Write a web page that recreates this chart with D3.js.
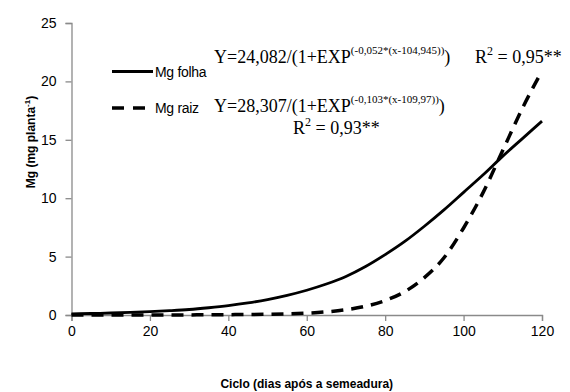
<!DOCTYPE html>
<html>
<head>
<meta charset="utf-8">
<script src="https://cdn.jsdelivr.net/npm/d3@7"></script>
<style>
  body { margin: 0; background: #fff; }
  svg { display: block; }
</style>
</head>
<body>
<div id="chart"></div>
<script>
// dias após a semeadura
const dias = [0, 5, 10, 15, 20, 25, 30, 35, 40, 45, 50, 55, 60, 65, 70, 75, 80, 85, 90, 95, 100, 105, 110, 115, 120];
// Mg folha (mg planta-1)
const mgFolha = [0.10, 0.13, 0.17, 0.22, 0.29, 0.37, 0.47, 0.62, 0.80, 1.03, 1.32, 1.68, 2.12, 2.65, 3.30, 4.15, 5.17, 6.30, 7.60, 9.00, 10.5, 12.0, 13.6, 15.1, 16.6];
// Mg raiz
const mgRaiz = [0.00, 0.00, 0.00, 0.00, 0.01, 0.01, 0.01, 0.02, 0.03, 0.04, 0.06, 0.10, 0.16, 0.27, 0.45, 0.75, 1.24, 2.00, 3.20, 4.90, 7.45, 10.5, 14.1, 17.7, 20.9];
const xTicks = [0, 20, 40, 60, 80, 100, 120];
const yTicks = [0, 5, 10, 15, 20, 25];

const width = 570, height = 392;
const x0 = 71.5, x1 = 542, y0 = 315, y1 = 23;

const svg = d3.select('#chart').append('svg')
  .attr('width', width)
  .attr('height', height);

const x = d3.scaleLinear().domain([0, 120]).range([x0, x1]);
const y = d3.scaleLinear().domain([0, 25]).range([y0, y1]);

const sans = '"Liberation Sans", Arial, sans-serif';
const serif = '"Liberation Serif", "Times New Roman", serif';

// axes
const yAxis = svg.append('g')
  .attr('transform', `translate(${x0},0)`)
  .call(d3.axisLeft(y).tickValues(yTicks).tickSize(6).tickPadding(9).tickFormat(d3.format('d')));
const xAxis = svg.append('g')
  .attr('transform', `translate(0,${y0})`)
  .call(d3.axisBottom(x).tickValues(xTicks).tickSize(6).tickPadding(5).tickFormat(d3.format('d')));

[xAxis, yAxis].forEach(a => {
  a.select('.domain').attr('stroke', '#8a8a8a').attr('stroke-width', 1.3);
  a.selectAll('.tick line').attr('stroke', '#8a8a8a').attr('stroke-width', 1.3);
  a.selectAll('.tick text').attr('fill', '#000').style('font-family', sans).style('font-size', '14px');
});

// curves
const line = d3.line().x((d, i) => x(dias[i])).y(d => y(d)).curve(d3.curveMonotoneX);

svg.append('path')
  .datum(mgRaiz)
  .attr('d', line)
  .attr('fill', 'none')
  .attr('stroke', '#000')
  .attr('stroke-width', 3.5)
  .attr('stroke-dasharray', '12,8');

svg.append('path')
  .datum(mgFolha)
  .attr('d', line)
  .attr('fill', 'none')
  .attr('stroke', '#000')
  .attr('stroke-width', 2.8);

// legend
svg.append('line').attr('x1', 112).attr('x2', 153).attr('y1', 71.5).attr('y2', 71.5)
  .attr('stroke', '#000').attr('stroke-width', 2.8);
svg.append('line').attr('x1', 112).attr('x2', 147).attr('y1', 108).attr('y2', 108)
  .attr('stroke', '#000').attr('stroke-width', 3.5).attr('stroke-dasharray', '12,9');

svg.append('text').attr('x', 155).attr('y', 77)
  .style('font-family', sans).style('font-size', '14px').style('letter-spacing', '-0.3px')
  .text('Mg folha');
svg.append('text').attr('x', 155).attr('y', 113)
  .style('font-family', sans).style('font-size', '14px').style('letter-spacing', '-0.3px')
  .text('Mg raiz');

function equation(xx, yy, main, sup) {
  const t = svg.append('text').attr('x', xx).attr('y', yy)
    .style('font-family', serif).style('font-size', '18px');
  t.append('tspan').text(main);
  t.append('tspan').attr('dy', -9).style('font-size', '11px').text(sup);
  t.append('tspan').attr('dy', 9).text(')');
}
equation(214, 63, 'Y=24,082/(1+EXP', '(-0,052*(x-104,945))');
equation(214, 112, 'Y=28,307/(1+EXP', '(-0,103*(x-109,97))');

function r2(xx, yy, val) {
  const t = svg.append('text').attr('x', xx).attr('y', yy)
    .style('font-family', serif).style('font-size', '18px');
  t.append('tspan').text('R');
  t.append('tspan').attr('dy', -8).style('font-size', '12px').text('2');
  t.append('tspan').attr('dy', 8).text(' = ' + val + '**');
}
r2(475, 63, '0,95');
r2(293, 134, '0,93');

// axis titles
svg.append('text')
  .attr('x', (x0 + x1) / 2).attr('y', 388)
  .attr('text-anchor', 'middle')
  .style('font-family', sans).style('font-size', '12px').style('font-weight', 'bold')
  .text('Ciclo (dias após a semeadura)');

const yt = svg.append('text')
  .attr('transform', 'translate(35,142) rotate(-90)')
  .attr('text-anchor', 'middle')
  .style('font-family', sans).style('font-size', '12px').style('font-weight', 'bold');
yt.append('tspan').text('Mg (mg planta');
yt.append('tspan').attr('dy', -5).style('font-size', '8px').text('-1');
yt.append('tspan').attr('dy', 5).text(')');
</script>
</body>
</html>
